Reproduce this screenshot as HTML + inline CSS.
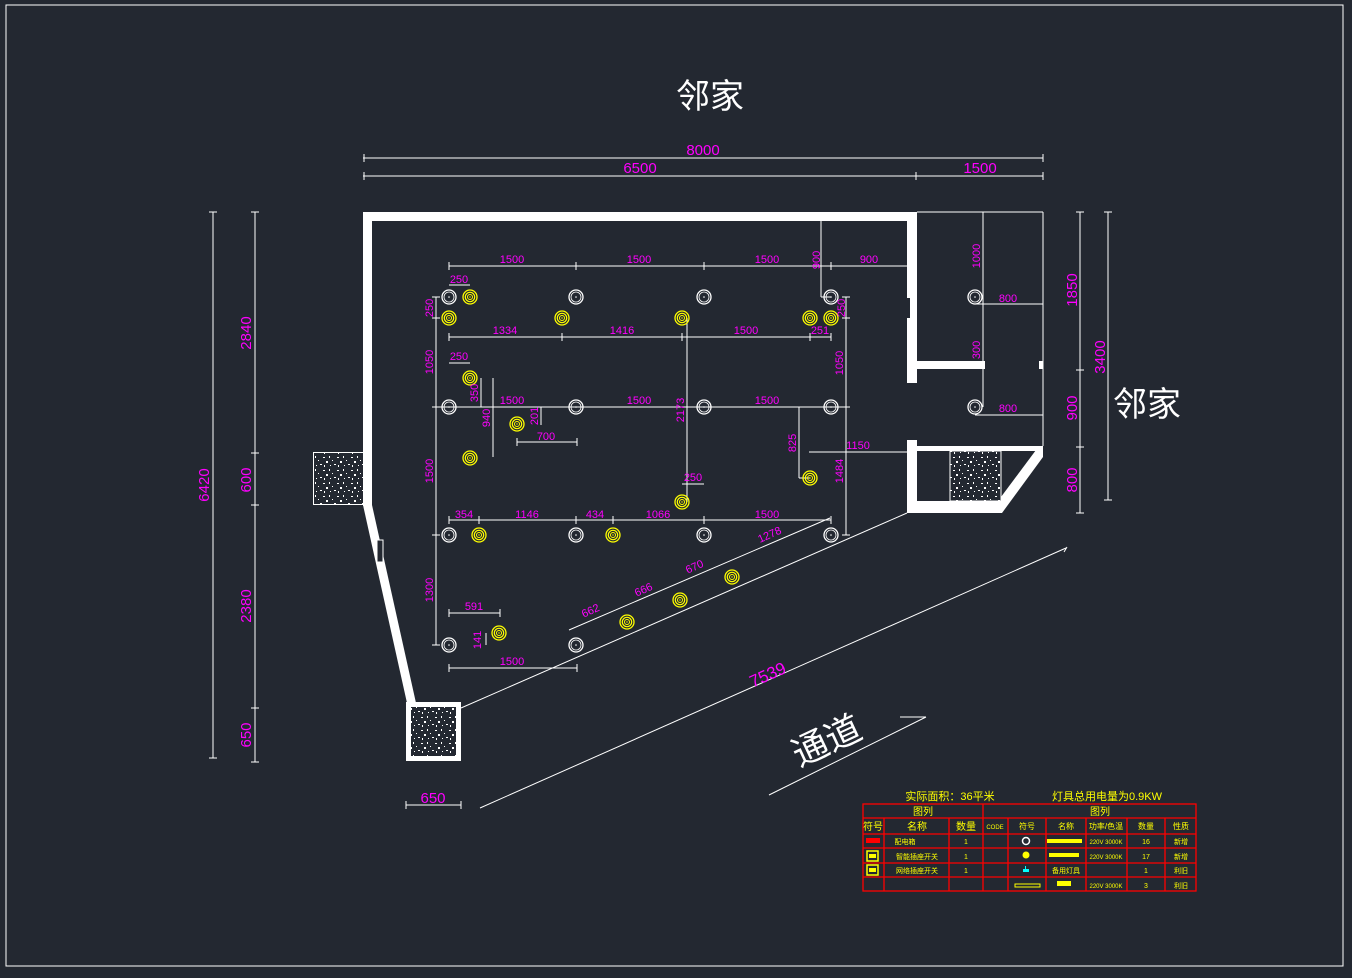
<!DOCTYPE html>
<html><head><meta charset="utf-8"><style>
html,body{margin:0;padding:0;background:#232831;}
svg{display:block}
text{font-family:"Liberation Sans","Noto Sans CJK SC",sans-serif;}
.m{fill:#ff00ff;font-size:11px;text-anchor:middle}
.d{stroke:#fff;stroke-width:1;fill:none}
</style></head><body>
<svg width="1352" height="978" viewBox="0 0 1352 978" xmlns="http://www.w3.org/2000/svg">
<defs>
<pattern id="sp" width="14" height="13" patternUnits="userSpaceOnUse">
<rect width="14" height="13" fill="#232831"/>
<rect x="1" y="2" width="2" height="1" fill="#fff"/><rect x="7" y="1" width="1" height="2" fill="#fff"/>
<rect x="4" y="6" width="2" height="2" fill="#fff"/><rect x="10" y="5" width="1" height="1" fill="#fff"/>
<rect x="12" y="9" width="2" height="1" fill="#fff"/><rect x="2" y="10" width="1" height="2" fill="#fff"/>
<rect x="8" y="10" width="1" height="1" fill="#fff"/>
</pattern>
<g id="w"><circle r="7" fill="none" stroke="#fff" stroke-width="1.3"/><circle r="5" fill="none" stroke="#fff" stroke-width="0.8"/><circle r="0.8" fill="#fff"/></g>
<g id="y"><circle r="7" fill="none" stroke="#ffff00" stroke-width="1.3"/><circle r="4.7" fill="none" stroke="#ffff00" stroke-width="1.2"/><circle r="2.5" fill="none" stroke="#ffff00" stroke-width="1"/><circle r="0.7" fill="#ffff00"/></g>
</defs>
<rect x="6" y="5" width="1337" height="961" fill="none" stroke="#fff" stroke-width="1"/>

<!-- walls -->
<g fill="#fff">
<rect x="363" y="212" width="554" height="9"/>
<rect x="363" y="212" width="9" height="294"/>
<polygon points="363,505 372,505 416,703 407,703"/>
<rect x="907" y="212" width="10" height="171"/>
<rect x="907" y="440" width="10" height="73"/>
<rect x="917" y="361" width="68" height="8"/>
<rect x="1039" y="361" width="4" height="8"/>
<rect x="917" y="446" width="126" height="5"/>
<rect x="907" y="501" width="95" height="12"/>
<polygon points="1036,450 1043,450 1043,457 1002,513 995,513 995,505"/>
</g>
<rect x="907" y="298" width="3" height="20" fill="#232831"/>
<rect x="377" y="540" width="6" height="22" fill="#232831" stroke="#fff" stroke-width="1"/>
<line x1="917" y1="212" x2="1043" y2="212" class="d"/>
<line x1="1043" y1="212" x2="1043" y2="446" class="d"/>
<rect x="950" y="451" width="51" height="50" fill="url(#sp)" stroke="#fff"/>
<rect x="313.5" y="452.5" width="50" height="52" fill="url(#sp)" stroke="#fff"/>
<rect x="408.5" y="704.5" width="50" height="54" fill="url(#sp)" stroke="#fff" stroke-width="5"/>

<!-- diagonals -->
<line x1="461" y1="708" x2="907" y2="513" class="d"/>
<line x1="480" y1="808" x2="1066" y2="548" class="d"/>
<line x1="1064" y1="552" x2="1067" y2="547" class="d"/>
<line x1="769" y1="795" x2="926" y2="717" class="d"/>
<line x1="900" y1="717" x2="926" y2="717" class="d"/>
<line x1="569" y1="630" x2="830" y2="518" class="d"/>

<!-- outer dims -->
<g class="d">
<line x1="363" y1="158" x2="1043" y2="158"/><line x1="363" y1="176" x2="1043" y2="176"/>
<line x1="364" y1="154" x2="364" y2="162"/><line x1="1043" y1="154" x2="1043" y2="162"/>
<line x1="364" y1="172" x2="364" y2="180"/><line x1="916" y1="172" x2="916" y2="180"/><line x1="1043" y1="172" x2="1043" y2="180"/>
<line x1="213" y1="212" x2="213" y2="758"/><line x1="255" y1="212" x2="255" y2="762"/>
<line x1="209" y1="212" x2="217" y2="212"/><line x1="209" y1="758" x2="217" y2="758"/>
<line x1="251" y1="212" x2="259" y2="212"/><line x1="251" y1="453" x2="259" y2="453"/><line x1="251" y1="505" x2="259" y2="505"/><line x1="251" y1="708" x2="259" y2="708"/><line x1="251" y1="762" x2="259" y2="762"/>
<line x1="1080" y1="212" x2="1080" y2="513"/><line x1="1108" y1="212" x2="1108" y2="500"/>
<line x1="1076" y1="212" x2="1084" y2="212"/><line x1="1076" y1="370" x2="1084" y2="370"/><line x1="1076" y1="447" x2="1084" y2="447"/><line x1="1076" y1="513" x2="1084" y2="513"/>
<line x1="1104" y1="212" x2="1112" y2="212"/><line x1="1104" y1="500" x2="1112" y2="500"/>
<line x1="406" y1="805" x2="461" y2="805"/><line x1="406" y1="801" x2="406" y2="809"/><line x1="461" y1="801" x2="461" y2="809"/>
</g>

<!-- inner dims -->
<g class="d">
<line x1="449" y1="266" x2="909" y2="266"/>
<line x1="449" y1="262" x2="449" y2="270"/><line x1="576" y1="262" x2="576" y2="270"/><line x1="704" y1="262" x2="704" y2="270"/><line x1="831" y1="262" x2="831" y2="270"/>
<line x1="821" y1="221" x2="821" y2="297"/><line x1="821" y1="297" x2="831" y2="297"/>
<line x1="449" y1="285" x2="470" y2="285"/>
<line x1="449" y1="337" x2="831" y2="337"/>
<line x1="449" y1="333" x2="449" y2="341"/><line x1="562" y1="333" x2="562" y2="341"/><line x1="682" y1="333" x2="682" y2="341"/><line x1="810" y1="333" x2="810" y2="341"/><line x1="831" y1="333" x2="831" y2="341"/>
<line x1="436" y1="297" x2="436" y2="645"/>
<line x1="432" y1="297" x2="440" y2="297"/><line x1="432" y1="318" x2="440" y2="318"/><line x1="432" y1="407" x2="440" y2="407"/><line x1="432" y1="535" x2="440" y2="535"/><line x1="432" y1="645" x2="440" y2="645"/>
<line x1="846" y1="297" x2="846" y2="535"/>
<line x1="842" y1="297" x2="850" y2="297"/><line x1="842" y1="318" x2="850" y2="318"/><line x1="842" y1="407" x2="850" y2="407"/><line x1="842" y1="535" x2="850" y2="535"/>
<line x1="436" y1="407" x2="846" y2="407"/>
<line x1="449" y1="363" x2="470" y2="363"/>
<line x1="481" y1="378" x2="481" y2="407"/><line x1="493" y1="378" x2="493" y2="457"/>
<line x1="541" y1="407" x2="541" y2="425"/>
<line x1="517" y1="442" x2="577" y2="442"/><line x1="517" y1="438" x2="517" y2="446"/><line x1="577" y1="438" x2="577" y2="446"/>
<line x1="687" y1="318" x2="687" y2="502"/>
<line x1="682" y1="484" x2="704" y2="484"/>
<line x1="799" y1="407" x2="799" y2="478"/><line x1="799" y1="478" x2="810" y2="478"/>
<line x1="809" y1="452" x2="909" y2="452"/>
<line x1="449" y1="520" x2="831" y2="520"/>
<line x1="449" y1="516" x2="449" y2="524"/><line x1="479" y1="516" x2="479" y2="524"/><line x1="576" y1="516" x2="576" y2="524"/><line x1="613" y1="516" x2="613" y2="524"/><line x1="704" y1="516" x2="704" y2="524"/><line x1="831" y1="516" x2="831" y2="524"/>
<line x1="449" y1="613" x2="500" y2="613"/><line x1="449" y1="609" x2="449" y2="617"/><line x1="500" y1="609" x2="500" y2="617"/>
<line x1="486" y1="633" x2="486" y2="645"/>
<line x1="449" y1="668" x2="577" y2="668"/><line x1="449" y1="664" x2="449" y2="672"/><line x1="577" y1="664" x2="577" y2="672"/>
<line x1="983" y1="212" x2="983" y2="407"/>
<line x1="975" y1="304" x2="1043" y2="304"/><line x1="975" y1="415" x2="1043" y2="415"/>
</g>

<!-- lights -->
<g>
<use href="#w" x="449" y="297"/><use href="#w" x="576" y="297"/><use href="#w" x="704" y="297"/><use href="#w" x="831" y="297"/>
<use href="#w" x="449" y="407"/><use href="#w" x="576" y="407"/><use href="#w" x="704" y="407"/><use href="#w" x="831" y="407"/>
<use href="#w" x="449" y="535"/><use href="#w" x="576" y="535"/><use href="#w" x="704" y="535"/><use href="#w" x="831" y="535"/>
<use href="#w" x="449" y="645"/><use href="#w" x="576" y="645"/>
<use href="#w" x="975" y="297"/><use href="#w" x="975" y="407"/>
<use href="#y" x="470" y="297"/><use href="#y" x="449" y="318"/><use href="#y" x="562" y="318"/><use href="#y" x="682" y="318"/><use href="#y" x="810" y="318"/><use href="#y" x="831" y="318"/>
<use href="#y" x="470" y="378"/><use href="#y" x="517" y="424"/><use href="#y" x="470" y="458"/><use href="#y" x="682" y="502"/><use href="#y" x="810" y="478"/>
<use href="#y" x="479" y="535"/><use href="#y" x="613" y="535"/><use href="#y" x="499" y="633"/>
<use href="#y" x="627" y="622"/><use href="#y" x="680" y="600"/><use href="#y" x="732" y="577"/>
</g>

<!-- magenta labels -->
<g class="m">
<text x="703" y="155" font-size="15">8000</text>
<text x="640" y="173" font-size="15">6500</text>
<text x="980" y="173" font-size="15">1500</text>
<text x="433" y="803" font-size="15">650</text>
<text font-size="15" transform="translate(209,485) rotate(-90)">6420</text>
<text font-size="15" transform="translate(251,333) rotate(-90)">2840</text>
<text font-size="15" transform="translate(251,480) rotate(-90)">600</text>
<text font-size="15" transform="translate(251,606) rotate(-90)">2380</text>
<text font-size="15" transform="translate(251,735) rotate(-90)">650</text>
<text font-size="15" transform="translate(1077,290) rotate(-90)">1850</text>
<text font-size="15" transform="translate(1077,408) rotate(-90)">900</text>
<text font-size="15" transform="translate(1077,480) rotate(-90)">800</text>
<text font-size="15" transform="translate(1105,357) rotate(-90)">3400</text>
<text font-size="17" transform="translate(770,680) rotate(-24)">7539</text>
<text x="512" y="263">1500</text><text x="639" y="263">1500</text><text x="767" y="263">1500</text><text x="869" y="263">900</text>
<text transform="translate(820,260) rotate(-90)">900</text>
<text x="459" y="283">250</text>
<text x="505" y="334">1334</text><text x="622" y="334">1416</text><text x="746" y="334">1500</text><text x="820" y="334">251</text>
<text transform="translate(433,308) rotate(-90)">250</text>
<text transform="translate(433,362) rotate(-90)">1050</text>
<text transform="translate(433,471) rotate(-90)">1500</text>
<text transform="translate(433,590) rotate(-90)">1300</text>
<text transform="translate(845,308) rotate(-90)">250</text>
<text transform="translate(843,363) rotate(-90)">1050</text>
<text transform="translate(843,471) rotate(-90)">1484</text>
<text x="459" y="360">250</text>
<text x="512" y="404">1500</text><text x="639" y="404">1500</text><text x="767" y="404">1500</text>
<text transform="translate(478,393) rotate(-90)">350</text>
<text transform="translate(490,418) rotate(-90)">940</text>
<text transform="translate(538,416) rotate(-90)">201</text>
<text x="546" y="440">700</text>
<text transform="translate(684,410) rotate(-90)">2173</text>
<text x="693" y="481">250</text>
<text transform="translate(796,443) rotate(-90)">825</text>
<text x="858" y="449">1150</text>
<text x="464" y="518">354</text><text x="527" y="518">1146</text><text x="595" y="518">434</text><text x="658" y="518">1066</text><text x="767" y="518">1500</text>
<text x="474" y="610">591</text>
<text transform="translate(481,640) rotate(-90)">141</text>
<text x="512" y="665">1500</text>
<text transform="translate(592,614) rotate(-24)">662</text>
<text transform="translate(645,593) rotate(-24)">666</text>
<text transform="translate(696,570) rotate(-24)">670</text>
<text transform="translate(771,538) rotate(-24)">1278</text>
<text transform="translate(980,256) rotate(-90)">1000</text>
<text transform="translate(980,350) rotate(-90)">300</text>
<text x="1008" y="302">800</text><text x="1008" y="412">800</text>
</g>

<!-- big labels -->
<text x="710" y="108" fill="#fff" font-size="34" text-anchor="middle" font-family="'Noto Serif CJK SC',serif">邻家</text>
<text x="1147" y="416" fill="#fff" font-size="34" text-anchor="middle" font-family="'Noto Serif CJK SC',serif">邻家</text>
<text fill="#fff" font-size="36" text-anchor="middle" font-family="'Noto Serif CJK SC',serif" transform="translate(832,752) rotate(-25)">通道</text>

<!-- legend -->
<text x="950" y="800" fill="#ffff00" font-size="11" text-anchor="middle">实际面积：36平米</text>
<text x="1107" y="800" fill="#ffff00" font-size="11" text-anchor="middle">灯具总用电量为0.9KW</text>
<g stroke="#ff0000" stroke-width="1.3" fill="none">
<rect x="863" y="804" width="333" height="87"/>
<line x1="863" y1="818" x2="1196" y2="818"/><line x1="863" y1="834" x2="1196" y2="834"/><line x1="863" y1="848" x2="1196" y2="848"/><line x1="863" y1="863" x2="1196" y2="863"/><line x1="863" y1="877" x2="1196" y2="877"/>
<line x1="983" y1="804" x2="983" y2="891"/>
<line x1="884" y1="818" x2="884" y2="891"/><line x1="949" y1="818" x2="949" y2="891"/>
<line x1="1008" y1="818" x2="1008" y2="891"/><line x1="1046" y1="818" x2="1046" y2="891"/><line x1="1086" y1="818" x2="1086" y2="891"/><line x1="1127" y1="818" x2="1127" y2="891"/><line x1="1165" y1="818" x2="1165" y2="891"/>
</g>
<g fill="#ffff00" font-size="10" text-anchor="middle">
<text x="923" y="815">图列</text><text x="1100" y="815">图列</text>
<text x="873" y="830">符号</text><text x="917" y="830">名称</text><text x="966" y="830">数量</text>
<text x="995" y="829" font-size="6">CODE</text><text x="1027" y="829" font-size="8">符号</text><text x="1066" y="829" font-size="8">名称</text><text x="1106" y="829" font-size="8">功率/色温</text><text x="1146" y="829" font-size="8">数量</text><text x="1181" y="829" font-size="8">性质</text>
<text x="905" y="844" font-size="7">配电箱</text><text x="917" y="859" font-size="7">智能插座开关</text><text x="917" y="873" font-size="7">网络插座开关</text>
<text x="966" y="844" font-size="7">1</text><text x="966" y="859" font-size="7">1</text><text x="966" y="873" font-size="7">1</text>
<text x="1106" y="844" font-size="6">220V 3000K</text><text x="1106" y="859" font-size="6">220V 3000K</text><text x="1106" y="888" font-size="6">220V 3000K</text>
<text x="1146" y="844" font-size="7">16</text><text x="1146" y="859" font-size="7">17</text><text x="1146" y="873" font-size="7">1</text><text x="1146" y="888" font-size="7">3</text>
<text x="1181" y="844" font-size="7">新增</text><text x="1181" y="859" font-size="7">新增</text><text x="1181" y="873" font-size="7">利旧</text><text x="1181" y="888" font-size="7">利旧</text>
<text x="1066" y="873" font-size="7">备用灯具</text>
</g>
<rect x="866" y="838" width="14" height="5" fill="#ff0000"/>
<rect x="867" y="851" width="11" height="10" fill="none" stroke="#ffff00" stroke-width="1.5"/><rect x="869" y="854" width="7" height="4" fill="#ffff00"/>
<rect x="867" y="865" width="11" height="10" fill="none" stroke="#ffff00" stroke-width="1.5"/><rect x="869" y="868" width="7" height="4" fill="#ffff00"/>
<circle cx="1026" cy="841" r="3.5" fill="none" stroke="#fff" stroke-width="1.5"/>
<circle cx="1026" cy="855" r="3.5" fill="#ffff00"/>
<rect x="1023" y="869" width="6" height="3" fill="#00ffff"/><rect x="1025" y="866" width="1" height="3" fill="#00ffff"/>
<rect x="1015" y="884" width="25" height="3" fill="none" stroke="#ffff00" stroke-width="1"/>
<rect x="1047" y="839" width="35" height="4" fill="#ffff00"/>
<rect x="1049" y="853" width="30" height="4" fill="#ffff00"/>
<rect x="1057" y="881" width="14" height="5" fill="#ffff00"/>
</svg>
</body></html>
